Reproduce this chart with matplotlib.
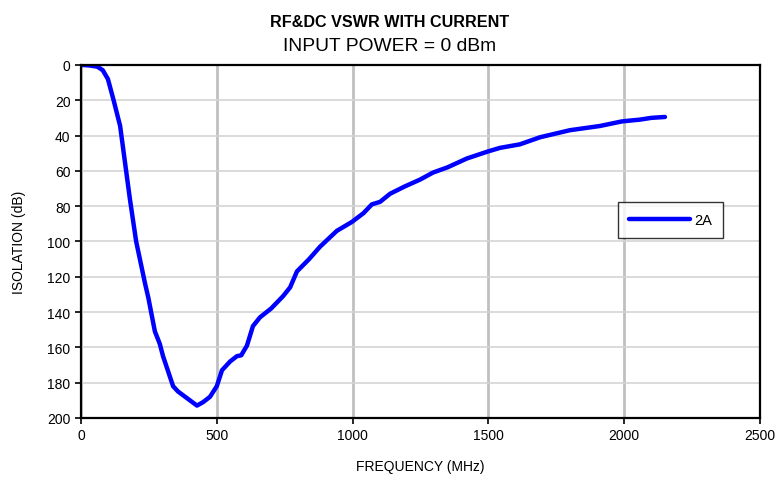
import matplotlib.pyplot as plt
import numpy as np

plt.rcParams['font.family'] = ['Liberation Sans', 'DejaVu Sans']

# frequency (MHz) and isolation (dB)
freq = [0, 30, 60, 80, 99, 120, 144, 180, 203, 236, 248, 272, 290, 302, 339, 357, 427,
        450, 475, 500, 519, 549, 574, 590, 611, 633, 659, 700, 744, 770, 795,
        840, 880, 942, 997, 1040, 1071, 1101, 1138, 1190, 1248, 1296, 1350, 1421, 1499,
        1543, 1616, 1690, 1800, 1911, 1992, 2058, 2100, 2150]
iso = [0, 0.3, 1, 3, 8, 20, 34.6, 76, 100, 124, 132, 151, 158, 165, 182, 185, 193,
       191, 188, 182, 173, 168, 165, 164.5, 159, 148, 143, 138, 131, 126, 117,
       110, 103, 94, 89, 84, 79, 77.6, 73, 69, 65, 61, 58, 53, 49,
       47, 45, 41, 37, 34.6, 32, 31, 30, 29.5]

fig = plt.figure(figsize=(7.79, 4.81), dpi=100)
ax = fig.add_axes([0.104, 0.129, 0.8716, 0.734])

ax.plot(freq, iso, color='#0000FF', linewidth=3.2, label='2A', solid_capstyle='round')

ax.set_xlim(0, 2500)
ax.set_ylim(200, 0)
ax.set_xticks(np.arange(0, 2501, 500))
ax.set_yticks(np.arange(0, 201, 20))
ax.tick_params(direction='out', length=4, width=1.2, labelsize=10, colors='black')

ax.grid(axis='y', color='#d4d4d4', linewidth=1.2)
ax.grid(axis='x', color='#c0c0c0', linewidth=2)
ax.set_axisbelow(True)
for s in ax.spines.values():
    s.set_linewidth(1.6)
    s.set_color('black')

ax.set_xlabel('FREQUENCY (MHz)', fontsize=10, labelpad=12)
ax.set_ylabel('ISOLATION (dB)', fontsize=10, labelpad=15)

fig.text(0.5, 0.953, 'RF&DC VSWR WITH CURRENT', ha='center', va='center',
         fontsize=11.6, fontweight='bold')
fig.text(0.5, 0.903, 'INPUT POWER = 0 dBm', ha='center', va='center', fontsize=13.9)

leg = ax.legend(loc='upper left', bbox_to_anchor=(0.791, 0.612), frameon=True,
                fancybox=False, edgecolor='black', fontsize=10.5, handlelength=4.2,
                borderpad=0.75, handletextpad=0.25, borderaxespad=0)
leg.get_frame().set_linewidth(1.0)

fig.savefig('out.png', dpi=100)
